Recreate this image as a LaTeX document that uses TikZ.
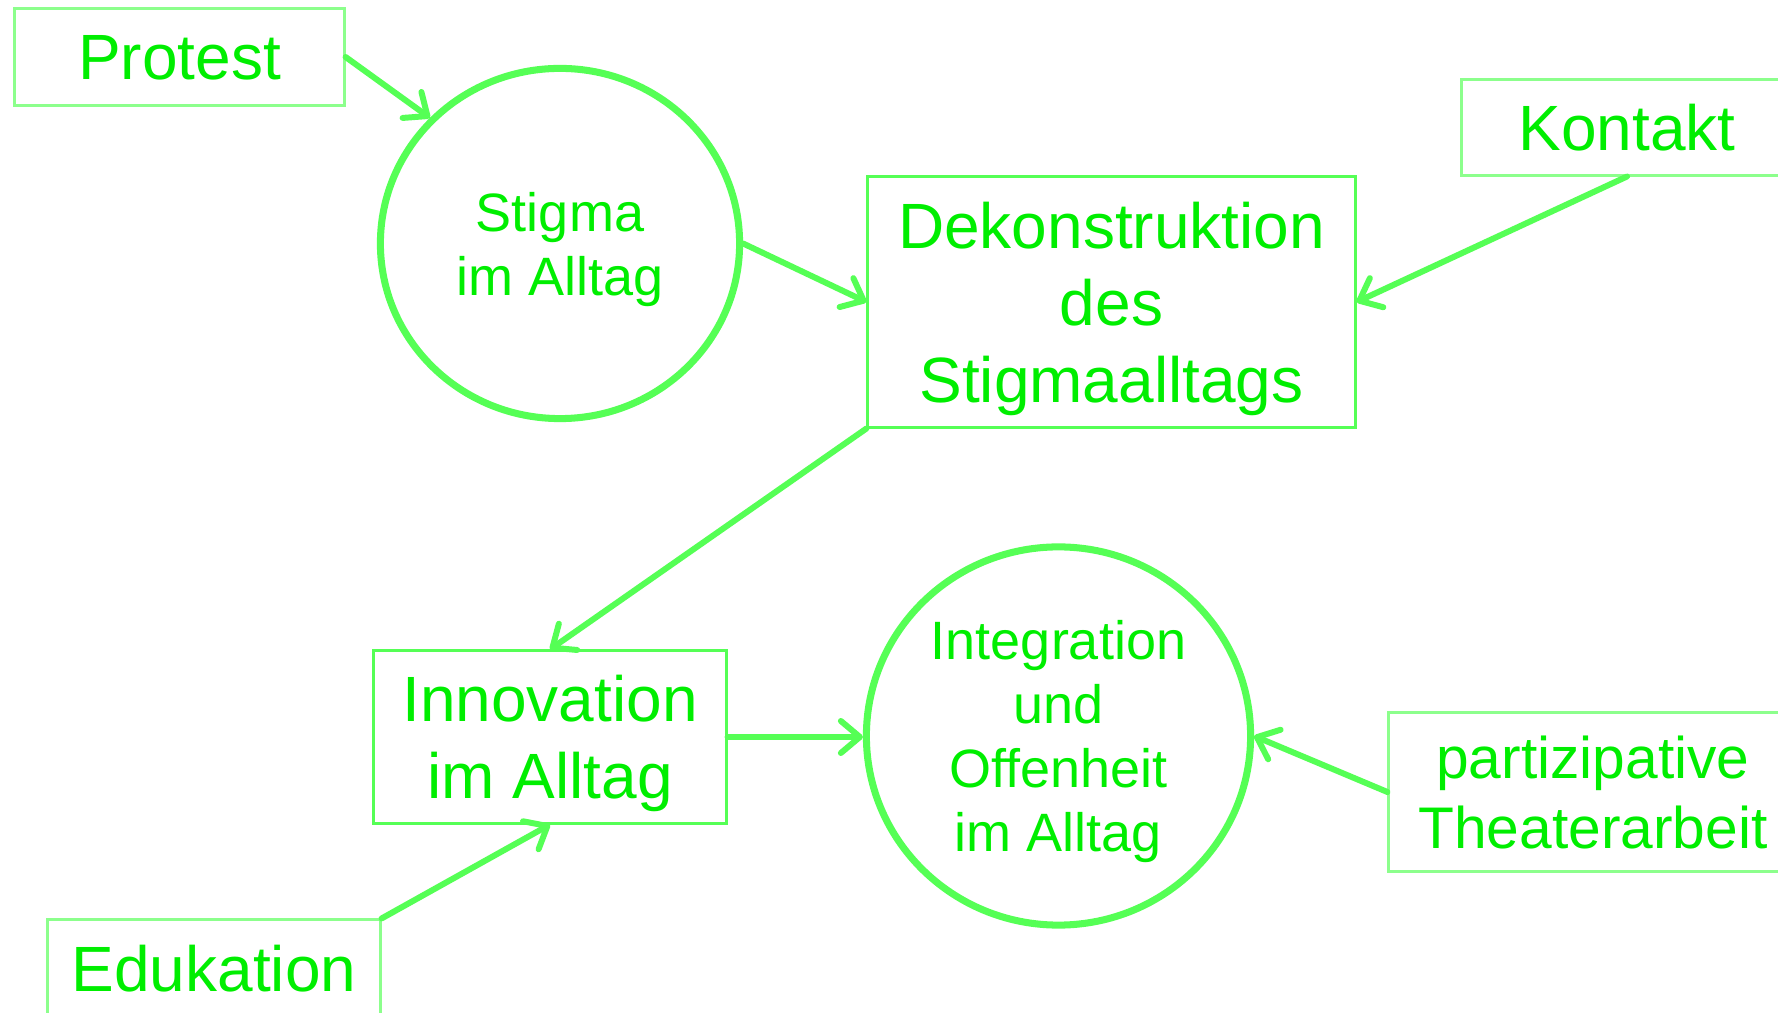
\documentclass[tikz,border=0pt]{standalone}
\usepackage{fontspec}
\setmainfont{Liberation Sans}
\usetikzlibrary{arrows.meta,shapes.geometric}
\definecolor{txtgreen}{RGB}{0,238,0}
\definecolor{linegreen}{RGB}{85,255,85}
\definecolor{lightbox}{RGB}{140,255,140}
\tikzset{
  bigtxt/.style={font=\fontsize{18.2pt}{21.9pt}\selectfont, text=txtgreen, align=center, text depth=0pt, inner sep=0pt},
  boxdark/.style={bigtxt, draw=linegreen, line width=0.85pt, rectangle},
  boxlight/.style={bigtxt, draw=lightbox, line width=0.85pt, rectangle},
  circnode/.style={ellipse, draw=linegreen, line width=2pt, text=txtgreen, align=center, text depth=0pt, inner sep=0pt,
     font=\fontsize{15.36pt}{18.2pt}\selectfont},
  conn/.style={draw=linegreen, line width=1.7pt, line cap=round,
     -{Straight Barb[length=1.9mm,width=3.2mm,round]}}
}
\begin{document}
\begin{tikzpicture}[x=0.01cm,y=-0.01cm]
\useasboundingbox (0,0) rectangle (1778,1013);
\clip (0,0) rectangle (1778,1013);
\fill[white] (0,0) rectangle (1778,1013);

\node[boxlight, minimum width=3.29cm, minimum height=0.96cm] (protest) at (179.5,57) {Protest};
\node[boxlight, minimum width=3.30cm, minimum height=0.95cm] (kontakt) at (1627,127.5) {Kontakt};
\node[boxdark, minimum width=4.87cm, minimum height=2.50cm] (dek) at (1111.5,302) {Dekonstruktion\\des\\Stigmaalltags};
\node[boxdark, minimum width=3.52cm, minimum height=1.72cm] (innov) at (550,737) {Innovation\\im Alltag};
\node[boxlight, minimum width=3.32cm, minimum height=0.96cm] (eduk) at (214,968) {Edukation};
\node[boxlight, minimum width=4.08cm, minimum height=1.58cm, font=\fontsize{16.7pt}{19.9pt}\selectfont] (part) at (1593,792) {partizipative\\Theaterarbeit};

\node[circnode, minimum width=3.59cm, minimum height=3.50cm] (stigma) at (560,243.5) {Stigma\\im Alltag};
\node[circnode, minimum width=3.84cm, minimum height=3.78cm] (integ) at (1058.5,736) {Integration\\und\\Offenheit\\im Alltag};

\draw[conn] (protest.east) -- (stigma.136);
\draw[conn] (stigma.east) -- (dek.west);
\draw[conn] (kontakt.south) -- (dek.east);
\draw[conn] (dek.south west) -- (innov.north);
\draw[conn] (eduk.north east) -- (innov.south);
\draw[conn] (innov.east) -- (innov.east -| integ.west);
\draw[conn] (part.west) -- (integ.east);
\end{tikzpicture}
\end{document}
